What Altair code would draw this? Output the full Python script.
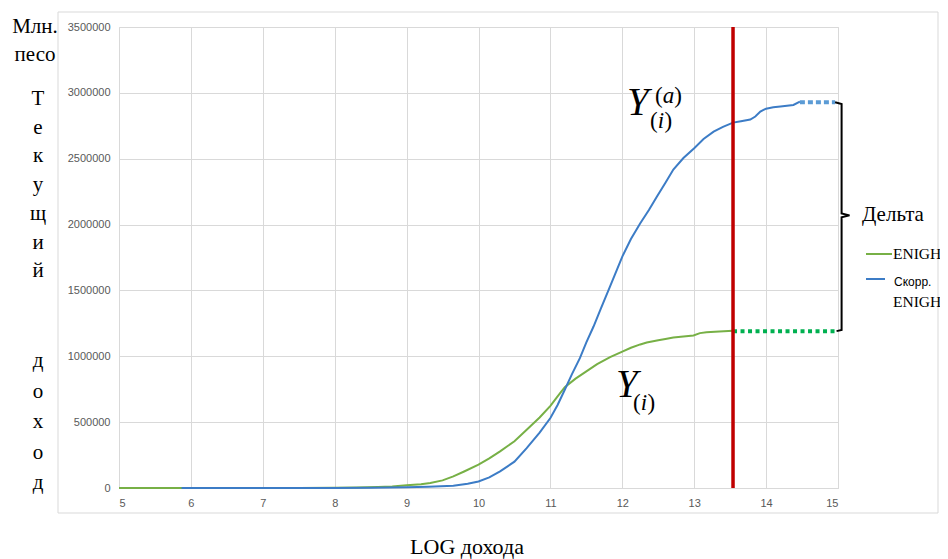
import altair as alt
import pandas as pd

# ENIGH (observed) cumulative income curve
enigh_x = [5, 5.5, 6, 6.5, 7, 7.5, 8, 8.3, 8.6, 8.8, 9, 9.2, 9.33, 9.5, 9.65, 9.8, 10, 10.15, 10.3,
           10.5, 10.67, 10.85, 11, 11.1, 11.2, 11.35, 11.5, 11.65, 11.83, 12, 12.12, 12.25, 12.34,
           12.5, 12.6, 12.71, 12.85, 12.99, 13.08, 13.17, 13.35, 13.54]
enigh_y = [0, 0, 0, 0, 0, 0, 1000, 3000, 7000, 12000, 20000, 29000, 38000, 58000, 88000, 125000,
           177000, 225000, 278000, 355000, 442000, 535000, 624000, 695000, 766000, 830000, 885000,
           940000, 994000, 1036000, 1065000, 1090000, 1105000, 1122000, 1132000, 1142000, 1150000,
           1158000, 1176000, 1183000, 1188000, 1193000]

# Adjusted ENIGH curve
adj_x = [5.87, 6.5, 7, 7.5, 8, 8.5, 9, 9.3, 9.65, 9.85, 10, 10.15, 10.3, 10.5, 10.67, 10.85, 11,
         11.1, 11.2, 11.3, 11.41, 11.5, 11.6, 11.7, 11.83, 11.92, 12.0, 12.12, 12.25, 12.37, 12.48,
         12.6, 12.71, 12.85, 13.0, 13.13, 13.27, 13.4, 13.54, 13.65, 13.78, 13.85, 13.92, 14.0,
         14.1, 14.2, 14.38, 14.47]
adj_y = [0, 0, 0, 0, 0, 1000, 5000, 10000, 17000, 32000, 50000, 80000, 126000, 200000, 303000,
         420000, 531000, 630000, 746000, 865000, 986000, 1105000, 1226000, 1360000, 1530000,
         1650000, 1757000, 1890000, 2010000, 2110000, 2212000, 2318000, 2418000, 2505000, 2580000,
         2650000, 2706000, 2742000, 2774000, 2785000, 2797000, 2820000, 2858000, 2880000, 2890000,
         2896000, 2908000, 2933000]

# dotted extensions
enigh_ext_x = [13.54, 14.98]
enigh_ext_y = [1191000, 1191000]
adj_ext_x = [14.47, 14.96]
adj_ext_y = [2928000, 2928000]

# cut-off (red line)
cut_x = [13.54]

# brace for "Дельта"
brace_x = [14.96, 15.05, 15.05, 15.16, 15.05, 15.05, 14.98]
brace_y = [2928000, 2915000, 2085000, 2070000, 2055000, 1200000, 1191000]

x_ticks = [5, 6, 7, 8, 9, 10, 11, 12, 13, 14, 15]
y_ticks = [0, 500000, 1000000, 1500000, 2000000, 2500000, 3000000, 3500000]

W, H = 719, 461
SERIF = "Liberation Serif"
SANS = "Liberation Sans"

xs = alt.Scale(domain=[5, 15], nice=False, zero=False)
ys = alt.Scale(domain=[0, 3500000], nice=False)

x_axis = alt.Axis(values=x_ticks, format="d", grid=True, gridColor="#d9d9d9", domainColor="#d9d9d9",
                  ticks=False, labelColor="#595959", labelFont=SANS, labelFontSize=11,
                  labelPadding=9, title=None)
y_axis = alt.Axis(values=y_ticks, format="d", grid=True, gridColor="#d9d9d9", domain=False,
                  ticks=False, labelColor="#595959", labelFont=SANS, labelFontSize=11,
                  labelPadding=9, title=None)

green_df = pd.DataFrame({"x": enigh_x, "y": enigh_y})
blue_df = pd.DataFrame({"x": adj_x, "y": adj_y})
gext_df = pd.DataFrame({"x": enigh_ext_x, "y": enigh_ext_y})
bext_df = pd.DataFrame({"x": adj_ext_x, "y": adj_ext_y})
cut_df = pd.DataFrame({"x": cut_x})
brace_df = pd.DataFrame({"x": brace_x, "y": brace_y, "i": list(range(len(brace_x)))})
one = pd.DataFrame({"a": [0]})

frame = alt.Chart(one).mark_rect(fillOpacity=0, stroke="#d9d9d9", strokeWidth=1).encode(
    x=alt.value(-61), x2=alt.value(819), y=alt.value(-15), y2=alt.value(486))

green = alt.Chart(green_df).mark_line(color="#77b046", strokeWidth=2).encode(
    x=alt.X("x:Q", scale=xs, axis=x_axis), y=alt.Y("y:Q", scale=ys, axis=y_axis))
blue = alt.Chart(blue_df).mark_line(color="#3c7cc6", strokeWidth=2).encode(
    x=alt.X("x:Q", scale=xs), y=alt.Y("y:Q", scale=ys))
gext = alt.Chart(gext_df).mark_line(color="#00b050", strokeWidth=4, strokeDash=[4, 3.5]).encode(
    x=alt.X("x:Q", scale=xs), y=alt.Y("y:Q", scale=ys))
bext = alt.Chart(bext_df).mark_line(color="#5b9bd5", strokeWidth=4, strokeDash=[5, 3]).encode(
    x=alt.X("x:Q", scale=xs), y=alt.Y("y:Q", scale=ys))
red = alt.Chart(cut_df).mark_rule(color="#c00000", strokeWidth=3.5).encode(
    x=alt.X("x:Q", scale=xs), y=alt.value(0), y2=alt.value(H))
brace = alt.Chart(brace_df).mark_line(color="black", strokeWidth=2).encode(
    x=alt.X("x:Q", scale=xs), y=alt.Y("y:Q", scale=ys), order="i:Q")


def txt(text, x, y, size, font=SERIF, style="normal", align="left", baseline="alphabetic", **kw):
    return alt.Chart(one).mark_text(text=text, font=font, fontSize=size, fontStyle=style,
                                    align=align, baseline=baseline, color="black", **kw).encode(
        x=alt.value(x), y=alt.value(y))


def paren(letter, x, y, size=23):
    # upright parentheses around an italic letter
    pw = 0.333 * size
    lw = (0.5 if letter == "a" else 0.30) * size
    return [
        txt("(", x, y, size),
        txt(letter, x + pw, y, size, style="italic"),
        txt(")", x + pw + lw, y, size),
    ]


texts = [
    txt("Млн.", -84, 0, 21, align="center", baseline="middle"),
    txt("песо", -84, 28, 21, align="center", baseline="middle"),
    txt(["Т", "е", "к", "у", "щ", "и", "й"], -81, 72, 21,
        align="center", baseline="middle", lineHeight=28.7),
    txt(["д", "о", "х", "о", "д"], -81, 334, 21,
        align="center", baseline="middle", lineHeight=30.5),
    txt("LOG дохода", 348, 527, 22, align="center"),
    txt("Y", 508, 88, 39, style="italic"),
    *paren("a", 536, 76),
    *paren("i", 531, 101),
    txt("Y", 497, 370, 39, style="italic"),
    *paren("i", 514, 383),
    txt("Дельта", 743, 188, 21, baseline="middle"),
    txt("ENIGH", 774, 227, 15.5, baseline="middle"),
    txt("Скорр.", 775, 255, 12, font=SANS, baseline="middle"),
    txt("ENIGH", 774, 275, 15.5, baseline="middle"),
]

leg_g = alt.Chart(one).mark_rule(color="#77b046", strokeWidth=2).encode(
    x=alt.value(747), x2=alt.value(773), y=alt.value(227))
leg_b = alt.Chart(one).mark_rule(color="#3c7cc6", strokeWidth=2).encode(
    x=alt.value(747), x2=alt.value(766), y=alt.value(252))

chart = alt.layer(frame, green, blue, gext, bext, red, brace, leg_g, leg_b, *texts).properties(
    width=W, height=H,
    autosize=alt.AutoSizeParams(type="none"),
    padding={"left": 111, "top": 19, "right": 102, "bottom": 71},
).configure_view(strokeWidth=0).configure(background="white")

chart.save("out.html", embed_options={"renderer": "svg", "actions": False})
